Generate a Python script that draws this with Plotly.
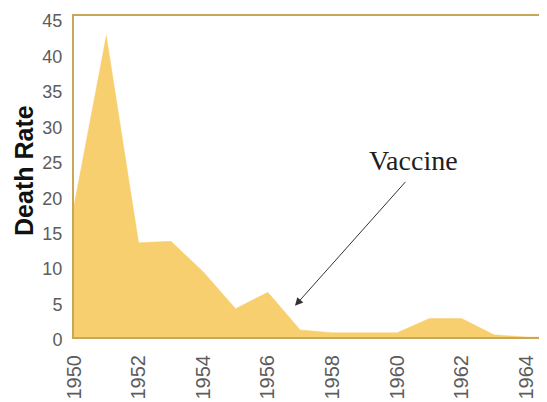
import plotly.graph_objects as go

years = [1950, 1951, 1952, 1953, 1954, 1955, 1956, 1957, 1958, 1959, 1960, 1961, 1962, 1963, 1964, 1965]
death_rate = [18.5, 42.5, 13.3, 13.5, 9.2, 4.0, 6.3, 1.0, 0.6, 0.6, 0.6, 2.6, 2.6, 0.3, 0.0, 0.0]
x_ticks = [1950, 1952, 1954, 1956, 1958, 1960, 1962, 1964]
y_ticks = [0, 5, 10, 15, 20, 25, 30, 35, 40, 45]
annotation_text = "Vaccine"
annotation_pos = (1960.5, 24.9)
arrow_head = (1956.84, 4.4)
arrow_tail = (1960.3, 22.1)

fill_color = "#F8CF6E"
border_color = "#C9A65A"
tick_color = "#5c5c5c"

fig = go.Figure()
fig.add_trace(go.Scatter(
    x=years, y=death_rate, mode="lines", fill="tozeroy",
    fillcolor=fill_color, line=dict(color=fill_color, width=0.5),
    hoverinfo="skip", showlegend=False,
))

fig.add_annotation(
    x=arrow_head[0], y=arrow_head[1], ax=arrow_tail[0], ay=arrow_tail[1],
    xref="x", yref="y", axref="x", ayref="y", text="",
    showarrow=True, arrowhead=2, arrowsize=1.6, arrowwidth=1, arrowcolor="#333333",
)
fig.add_annotation(
    x=annotation_pos[0], y=annotation_pos[1], xref="x", yref="y",
    text=annotation_text, showarrow=False,
    font=dict(family="Liberation Serif, Times New Roman, serif", size=28, color="#1e1e1e"),
)
fig.add_annotation(
    x=-0.106, y=0.52, xref="paper", yref="paper", xanchor="center", yanchor="middle",
    text="<b>Death Rate</b>", showarrow=False, textangle=-90,
    font=dict(family="Liberation Sans, Arial, sans-serif", size=25, color="#111111"),
)

fig.update_layout(
    width=539, height=394,
    margin=dict(l=66, r=0, t=8, b=65, autoexpand=False),
    paper_bgcolor="white", plot_bgcolor="white",
    xaxis=dict(
        range=[1950, 1964.64], tickvals=x_ticks, ticktext=[str(v) for v in x_ticks],
        tickangle=-90, showgrid=False, zeroline=False, automargin=False,
        showline=True, linecolor=border_color, linewidth=2, mirror=True,
        ticks="", ticklabelstandoff=8,
        tickfont=dict(family="Liberation Sans, Arial, sans-serif", size=20, color=tick_color),
    ),
    yaxis=dict(
        range=[0, 45.3], tickvals=y_ticks, ticktext=[str(v) for v in y_ticks],
        showgrid=False, zeroline=False, automargin=False,
        showline=True, linecolor=border_color, linewidth=2, mirror=True,
        ticks="", ticklabelstandoff=6, ticklabelshift=3,
        tickfont=dict(family="Liberation Sans, Arial, sans-serif", size=18, color=tick_color),
    ),
)

fig.write_html("out.html")
